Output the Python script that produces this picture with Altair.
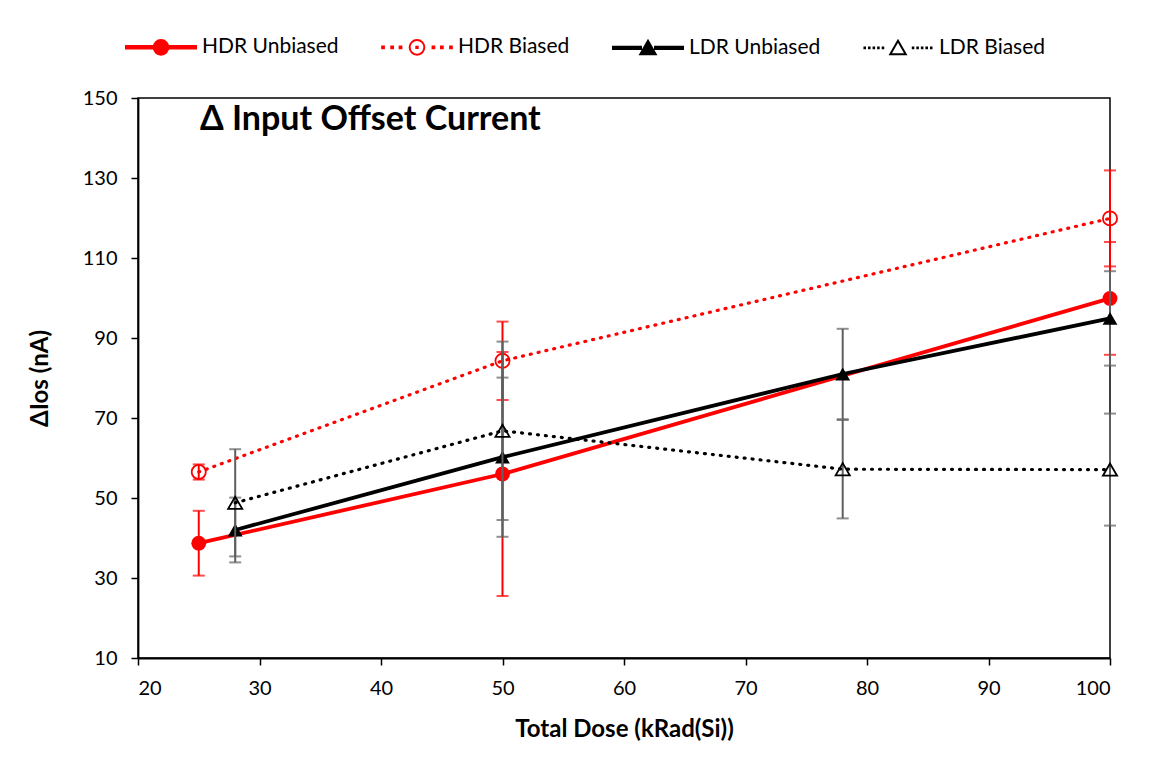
import altair as alt
import pandas as pd

# ---- data ----
series = ["HDR Unbiased", "HDR Biased", "LDR Unbiased", "LDR Biased"]

hdr_dose = [25, 50, 100]
hdr_unbiased = [38.7, 56.0, 99.9]
hdr_unbiased_err = [8.1, 30.5, 14.1]
hdr_biased = [56.5, 84.3, 119.9]
hdr_biased_err = [1.9, 9.8, 12.0]

ldr_dose = [28, 50, 78, 100]
ldr_unbiased = [42.0, 60.2, 81.0, 94.9]
ldr_unbiased_err = [8.1, 19.9, 11.3, 11.8]
ldr_biased = [48.8, 66.8, 57.2, 57.1]
ldr_biased_err = [13.4, 22.3, 12.3, 14.0]

x_ticks = [20, 30, 40, 50, 60, 70, 80, 90, 100]
y_ticks = [10, 30, 50, 70, 90, 110, 130, 150]

rows = []
for name, xs, ys, es in [
    (series[0], hdr_dose, hdr_unbiased, hdr_unbiased_err),
    (series[1], hdr_dose, hdr_biased, hdr_biased_err),
    (series[2], ldr_dose, ldr_unbiased, ldr_unbiased_err),
    (series[3], ldr_dose, ldr_biased, ldr_biased_err),
]:
    for x, y, e in zip(xs, ys, es):
        rows.append({"series": name, "dose": x, "val": y, "lo": y - e, "hi": y + e})
df = pd.DataFrame(rows)

# ---- styles ----
RED = "#FF0000"
BLACK = "#000000"
ERR_GRAY = "#5f5f5f"
FONT = "Lato"

style = {
    "HDR Unbiased": dict(color=RED, err=RED, dash=None, shape="circle", filled=True),
    "HDR Biased": dict(color=RED, err=RED, dash=[1, 7], shape="circle", filled=False),
    "LDR Unbiased": dict(color=BLACK, err=ERR_GRAY, dash=None, shape="triangle-up", filled=True),
    "LDR Biased": dict(color=BLACK, err=ERR_GRAY, dash=[1, 7], shape="triangle-up", filled=False),
}

xscale = alt.Scale(domain=[20, 100], nice=False, zero=False)
yscale = alt.Scale(domain=[10, 150], nice=False, zero=False)

X = alt.X("dose:Q", scale=xscale,
          axis=alt.Axis(values=x_ticks, title="Total Dose (kRad(Si))"))
Y = alt.Y("val:Q", scale=yscale,
          axis=alt.Axis(values=y_ticks, title="ΔIos (nA)"))

layers = []
for s in series:
    st = style[s]
    base = alt.Chart(df).transform_filter(alt.datum.series == s)
    layers.append(base.mark_rule(color=st["err"], strokeWidth=2).encode(
        x=X, y=alt.Y("lo:Q", scale=yscale), y2="hi:Q"))
    layers.append(base.mark_tick(color=st["err"], orient="horizontal", size=12, thickness=2).encode(
        x=X, y=alt.Y("lo:Q", scale=yscale)))
    layers.append(base.mark_tick(color=st["err"], orient="horizontal", size=12, thickness=2).encode(
        x=X, y=alt.Y("hi:Q", scale=yscale)))
    line_kw = dict(color=st["color"], strokeWidth=3.8)
    if st["dash"]:
        line_kw.update(strokeDash=st["dash"], strokeCap="round", strokeWidth=3.2)
    layers.append(base.mark_line(**line_kw).encode(x=X, y=Y))
    if st["filled"]:
        pt = base.mark_point(shape=st["shape"], filled=True, color=st["color"], size=220, opacity=1)
    else:
        pt = base.mark_point(shape=st["shape"], filled=False, color=st["color"], size=200,
                             strokeWidth=1.8, opacity=1)
    layers.append(pt.encode(x=X, y=Y))

# ---- legend glyphs (line + marker) as custom symbol paths ----
def rect(x0, x1, h):
    return f"M{x0},{-h}L{x1},{-h}L{x1},{h}L{x0},{h}Z"

def dot(cx, h):
    return f"M{cx-h},{-h}L{cx+h},{-h}L{cx+h},{h}L{cx-h},{h}Z"

circ = "M0.21,0A0.21,0.21,0,1,1,-0.21,0A0.21,0.21,0,1,1,0.21,0Z"
tri = "M0,-0.2L0.22,0.18L-0.22,0.18Z"

p_hdr_unb = rect(-1, -0.2, 0.035) + rect(0.2, 1, 0.035) + circ
p_hdr_bia = "".join(dot(c, 0.025) for c in [-0.97, -0.71, -0.47, 0.47, 0.71, 0.97]) + circ + dot(0, 0.02)
p_ldr_unb = rect(-1, -0.2, 0.035) + rect(0.2, 1, 0.035) + tri
p_ldr_bia = "".join(dot(c, 0.008) for c in [-0.95, -0.82, -0.69, -0.56, -0.43, 0.43, 0.56, 0.69, 0.82, 0.95]) + tri

legend = alt.Legend(
    title=None, orient="none", legendX=-13, legendY=-87, direction="horizontal",
    columns=4, symbolSize=4900, symbolStrokeWidth=2, symbolOpacity=1,
    labelFont=FONT, labelFontSize=21, labelColor=BLACK, labelOffset=5,
    columnPadding=39, padding=0,
)
legend_layer = alt.Chart(df).mark_point(opacity=0, filled=False).encode(
    x=X, y=Y,
    shape=alt.Shape("series:N", sort=series,
                    scale=alt.Scale(domain=series, range=[p_hdr_unb, p_hdr_bia, p_ldr_unb, p_ldr_bia]),
                    legend=legend),
    color=alt.Color("series:N", sort=series,
                    scale=alt.Scale(domain=series, range=[RED, RED, BLACK, BLACK]),
                    legend=legend),
    fill=alt.Fill("series:N", sort=series,
                  scale=alt.Scale(domain=series, range=[RED, "transparent", BLACK, "transparent"]),
                  legend=legend),
)

chart = alt.layer(legend_layer, *layers).properties(
    width=972, height=560,
    background="white",
    title=alt.TitleParams("Δ Input Offset Current", anchor="start", frame="group", orient="top",
                          dx=62, dy=116, offset=-10, baseline="top",
                          font=FONT, fontSize=34, fontWeight="bold", color=BLACK),
    autosize=alt.AutoSizeParams(type="none"),
    padding={"left": 130, "top": 90, "right": 25, "bottom": 100},
).configure_view(
    stroke=BLACK, strokeWidth=1.5
).configure_axis(
    grid=False, domainColor=BLACK, domainWidth=1.8, tickColor=BLACK, tickWidth=1.5,
    tickSize=7, labelFont=FONT, labelFontSize=20, labelColor=BLACK,
    titleFont=FONT, titleFontSize=24, titleFontWeight="bold", titleColor=BLACK,
).configure_axisX(
    labelPadding=13, titlePadding=19,
).configure_axisY(
    labelPadding=14, titlePadding=30,
)

chart.save("out.html", embed_options={"renderer": "svg", "actions": False})
